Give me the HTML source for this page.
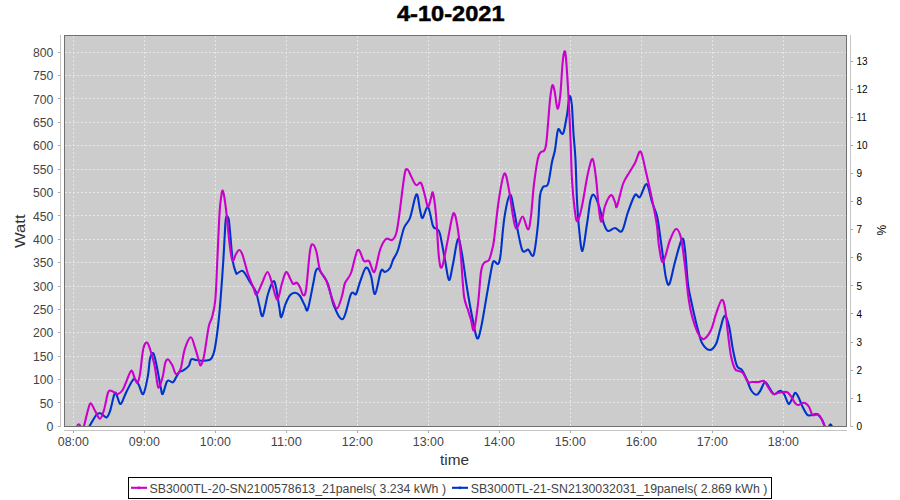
<!DOCTYPE html>
<html><head><meta charset="utf-8"><style>
html,body{margin:0;padding:0;background:#fff;overflow:hidden;}
svg{display:block;font-family:"Liberation Sans",sans-serif;}
</style></head><body>
<svg width="900" height="500" viewBox="0 0 900 500">
<defs><clipPath id="pc"><rect x="65" y="36" width="781" height="390"/></clipPath></defs>
<rect x="0" y="0" width="900" height="500" fill="#fff"/>
<text x="397" y="21.3" font-size="21.5" font-weight="bold" fill="#000" stroke="#000" stroke-width="0.5" textLength="107.5" lengthAdjust="spacingAndGlyphs">4-10-2021</text>
<rect x="64" y="35" width="783" height="392" fill="#cccccc"/>
<path d="M73.5 36V426 M144.5 36V426 M215.5 36V426 M286.5 36V426 M357.5 36V426 M428.5 36V426 M499.5 36V426 M570.5 36V426 M641.5 36V426 M712.5 36V426 M783.5 36V426 M65 402.5H846 M65 379.5H846 M65 356.5H846 M65 332.5H846 M65 309.5H846 M65 286.5H846 M65 262.5H846 M65 239.5H846 M65 215.5H846 M65 192.5H846 M65 169.5H846 M65 145.5H846 M65 122.5H846 M65 98.5H846 M65 75.5H846 M65 52.5H846" stroke="#fff" stroke-width="1" stroke-dasharray="2 2" fill="none" shape-rendering="crispEdges" opacity="0.5"/>
<g clip-path="url(#pc)" fill="none" stroke-width="2.1" stroke-linejoin="round" stroke-linecap="round"><path d="M89.0 427.0C90.2 425.1 94.2 417.6 96.0 415.3C97.8 413.0 98.8 413.3 100.0 413.3C101.2 413.3 102.2 414.6 103.3 415.3C104.4 416.0 105.6 418.0 106.7 417.3C107.8 416.6 108.7 415.3 110.0 411.3C111.3 407.3 113.5 395.7 114.7 393.3C115.9 390.9 116.3 394.9 117.3 396.7C118.3 398.5 119.2 404.7 120.7 404.0C122.2 403.3 124.1 396.5 126.0 392.7C127.9 388.9 130.6 383.5 132.0 381.3C133.4 379.1 133.6 378.7 134.7 379.3C135.8 379.9 137.3 382.2 138.7 384.7C140.1 387.1 141.8 395.6 143.3 394.0C144.9 392.4 146.9 381.2 148.0 375.3C149.1 369.4 149.1 362.4 150.0 358.7C150.9 355.0 152.2 352.1 153.3 353.3C154.4 354.5 155.5 360.3 156.7 366.0C157.9 371.7 159.7 382.6 160.7 387.3C161.7 392.0 161.7 394.9 162.7 394.0C163.7 393.1 165.6 384.2 166.7 382.0C167.8 379.8 168.2 380.7 169.3 380.7C170.4 380.7 171.7 383.3 173.3 382.0C174.9 380.7 177.1 374.6 178.7 372.7C180.3 370.8 181.0 371.8 182.7 370.7C184.4 369.6 187.3 367.9 188.7 366.0C190.1 364.1 190.1 360.3 191.3 359.3C192.5 358.3 194.3 359.8 196.0 360.0C197.7 360.2 199.1 360.7 201.3 360.7C203.5 360.7 207.5 360.6 209.3 360.0C211.1 359.4 211.1 359.1 212.0 357.3C212.9 355.5 213.7 354.4 214.7 349.3C215.7 344.2 217.0 334.9 218.0 326.7C219.0 318.5 219.6 311.0 220.5 300.0C221.4 289.0 222.5 273.2 223.3 260.7C224.1 248.1 224.8 232.0 225.3 224.7C225.8 217.4 225.8 217.6 226.4 216.7C227.0 215.8 228.1 216.9 228.7 219.3C229.3 221.7 229.3 224.4 230.0 231.3C230.7 238.2 231.7 253.8 232.7 260.7C233.7 267.6 235.2 270.6 236.0 272.7C236.8 274.8 236.3 273.6 237.3 273.3C238.3 273.0 240.7 270.6 242.0 270.7C243.3 270.8 243.9 271.9 245.3 274.0C246.8 276.1 248.9 280.3 250.7 283.3C252.5 286.3 254.6 288.3 256.0 292.0C257.4 295.7 258.2 301.3 259.3 305.3C260.4 309.3 261.2 317.9 262.7 316.0C264.1 314.1 266.2 299.8 268.0 294.0C269.8 288.2 272.0 282.4 273.3 281.3C274.6 280.2 275.0 283.0 276.0 287.3C277.0 291.6 278.4 302.3 279.3 307.3C280.2 312.3 280.3 317.7 281.3 317.3C282.3 316.9 283.9 308.4 285.3 304.7C286.8 301.0 288.3 297.3 290.0 295.3C291.7 293.3 293.6 292.6 295.3 292.7C297.0 292.8 298.4 293.9 300.0 296.0C301.6 298.1 303.4 303.1 304.7 305.3C306.0 307.5 306.4 313.0 307.8 309.3C309.2 305.6 312.0 289.5 313.3 283.3C314.6 277.1 314.7 274.4 315.5 272.0C316.3 269.6 316.9 268.3 318.0 268.6C319.1 268.9 320.3 271.4 322.0 274.0C323.7 276.6 326.0 278.7 328.0 284.0C330.0 289.3 331.5 300.2 334.0 306.0C336.5 311.8 340.2 321.0 343.0 319.0C345.8 317.0 348.8 298.2 351.0 294.0C353.2 289.8 354.5 296.0 356.0 294.0C357.5 292.0 358.3 286.4 360.0 282.0C361.7 277.6 364.2 268.6 366.0 267.6C367.8 266.6 369.5 271.6 371.0 276.0C372.5 280.4 373.3 294.8 375.0 294.0C376.7 293.2 379.3 274.7 381.0 271.0C382.7 267.3 383.5 272.5 385.0 272.0C386.5 271.5 388.7 270.0 390.0 268.0C391.3 266.0 391.7 263.0 393.0 260.0C394.3 257.0 396.2 255.3 398.0 250.0C399.8 244.7 402.0 233.3 404.0 228.0C406.0 222.7 407.9 223.6 410.0 218.0C412.1 212.4 414.7 195.7 416.4 194.4C418.1 193.1 419.0 206.1 420.0 210.0C421.0 213.9 421.3 218.5 422.6 218.0C423.9 217.5 426.3 205.7 428.0 207.0C429.7 208.3 431.5 222.3 433.0 226.0C434.5 229.7 435.8 227.7 437.0 229.0C438.2 230.3 438.7 228.8 440.0 234.0C441.3 239.2 443.5 252.3 445.0 260.0C446.5 267.7 447.7 279.3 449.0 280.0C450.3 280.7 451.5 270.8 453.0 264.0C454.5 257.2 456.5 240.7 458.0 239.0C459.5 237.3 460.5 245.8 462.0 254.0C463.5 262.2 465.3 277.7 467.0 288.0C468.7 298.3 470.3 307.7 472.0 316.0C473.7 324.3 475.5 336.0 477.0 338.0C478.5 340.0 479.3 335.3 481.0 328.0C482.7 320.7 485.2 304.3 487.0 294.0C488.8 283.7 490.8 271.5 492.0 266.0C493.2 260.5 493.0 261.3 494.0 261.0C495.0 260.7 496.9 264.8 498.0 264.0C499.1 263.2 499.3 263.7 500.4 256.0C501.5 248.3 502.8 227.8 504.4 217.6C506.0 207.4 508.4 196.3 510.0 195.0C511.6 193.7 512.7 203.8 514.0 210.0C515.3 216.2 516.7 225.4 518.0 232.0C519.3 238.6 520.8 246.4 522.0 249.6C523.2 252.8 524.1 251.2 525.2 251.2C526.3 251.2 527.2 248.8 528.4 249.6C529.6 250.4 531.3 256.0 532.4 256.0C533.5 256.0 533.9 254.9 534.8 249.6C535.7 244.3 537.1 232.9 538.0 224.0C538.9 215.1 539.2 202.2 540.0 196.0C540.8 189.8 541.7 189.0 543.0 187.0C544.3 185.0 546.5 188.2 548.0 184.0C549.5 179.8 550.8 167.7 552.0 162.0C553.2 156.3 554.0 155.4 555.0 150.0C556.0 144.6 556.9 132.6 558.0 129.8C559.1 127.0 560.4 132.8 561.4 133.2C562.4 133.6 562.7 135.2 563.7 132.0C564.7 128.8 566.2 119.6 567.2 113.7C568.2 107.8 568.7 97.9 569.5 96.4C570.3 94.9 571.1 98.6 571.8 104.5C572.4 110.4 572.8 122.8 573.4 132.0C574.0 141.2 574.9 148.7 575.5 160.0C576.1 171.3 576.4 188.7 577.0 200.0C577.6 211.3 578.1 219.5 579.0 228.0C579.9 236.5 581.1 251.7 582.4 251.0C583.7 250.3 585.6 232.5 587.0 224.0C588.4 215.5 589.3 204.8 590.5 200.0C591.7 195.2 592.6 194.0 594.0 195.0C595.4 196.0 597.3 201.2 599.0 206.0C600.7 210.8 602.5 219.8 604.0 224.0C605.5 228.2 606.2 230.3 608.0 231.0C609.8 231.7 612.7 228.0 615.0 228.0C617.3 228.0 619.8 233.7 622.0 231.0C624.2 228.3 625.8 218.0 628.0 212.0C630.2 206.0 633.0 197.5 635.0 195.0C637.0 192.5 638.1 198.8 640.0 197.0C641.9 195.2 644.6 183.2 646.6 184.0C648.6 184.8 650.3 196.7 652.0 202.0C653.7 207.3 655.7 210.5 657.0 216.0C658.3 221.5 659.0 228.2 660.0 235.0C661.0 241.8 662.0 249.8 663.0 257.0C664.0 264.2 664.9 273.5 666.0 278.0C667.1 282.5 667.9 286.7 669.4 284.0C670.9 281.3 672.9 269.5 675.0 262.0C677.1 254.5 680.3 241.0 682.0 239.0C683.7 237.0 684.0 242.5 685.0 250.0C686.0 257.5 687.0 275.7 688.0 284.0C689.0 292.3 689.8 294.3 691.0 300.0C692.2 305.7 693.8 313.0 695.0 318.0C696.2 323.0 696.8 325.8 698.0 330.0C699.2 334.2 700.1 339.7 702.0 343.0C703.9 346.3 707.3 349.8 709.6 350.0C711.9 350.2 714.3 347.3 716.0 344.0C717.7 340.7 718.6 334.7 720.0 330.0C721.4 325.3 723.0 316.7 724.5 316.0C726.0 315.3 727.6 320.3 729.0 326.0C730.4 331.7 731.7 343.3 733.0 350.0C734.3 356.7 735.5 362.7 737.0 366.0C738.5 369.3 740.3 367.7 742.0 370.0C743.7 372.3 745.5 376.7 747.0 380.0C748.5 383.3 749.4 387.5 751.0 390.0C752.6 392.5 755.0 394.8 756.6 394.8C758.2 394.9 759.1 392.4 760.5 390.3C761.9 388.2 763.5 382.4 765.0 382.0C766.5 381.6 767.9 385.8 769.4 387.8C770.9 389.8 772.4 393.6 773.9 394.2C775.4 394.8 777.2 392.1 778.4 391.6C779.6 391.1 780.0 390.6 781.0 391.0C782.0 391.4 783.1 392.4 784.2 394.2C785.3 396.0 786.5 400.3 787.4 401.9C788.2 403.5 788.4 404.4 789.3 403.8C790.1 403.2 791.5 399.8 792.5 398.0C793.5 396.2 794.1 393.1 795.1 392.9C796.1 392.7 797.0 394.3 798.3 396.7C799.6 399.1 801.2 404.0 802.7 407.0C804.2 410.0 805.9 413.3 807.2 414.7C808.5 416.1 809.0 415.4 810.4 415.3C811.8 415.2 814.2 414.1 815.5 414.0C816.8 413.9 817.0 413.7 818.1 414.7C819.2 415.7 820.9 417.8 822.0 419.8C823.1 421.9 824.5 425.8 825.0 427.0" stroke="#0033cc"/><path d="M829 426.5C830 423.5 831 423.5 832 426.5" stroke="#0033cc"/><path d="M77 426.5C78 423.5 79.5 423.5 80.5 426.5" stroke="#cc00cc"/><path d="M84.0 426.0C84.7 423.3 86.9 413.8 88.0 410.0C89.1 406.2 89.5 403.1 90.7 403.3C91.9 403.5 93.8 408.7 95.3 411.3C96.8 413.9 98.5 418.9 100.0 418.7C101.5 418.5 102.7 414.3 104.0 410.0C105.3 405.7 106.9 395.9 108.0 392.7C109.1 389.5 109.6 390.7 110.7 390.7C111.8 390.7 113.5 392.1 114.7 392.7C115.9 393.2 116.7 394.4 118.0 394.0C119.3 393.6 121.2 392.2 122.7 390.0C124.2 387.8 125.3 383.9 126.7 380.7C128.1 377.5 130.0 371.1 131.3 370.7C132.6 370.2 133.7 376.0 134.7 378.0C135.7 380.0 136.4 383.4 137.3 382.7C138.2 382.0 139.0 379.7 140.0 374.0C141.0 368.3 142.1 353.9 143.3 348.7C144.5 343.5 146.0 341.9 147.3 342.7C148.6 343.5 150.1 349.4 151.3 353.3C152.5 357.2 153.7 361.0 154.7 366.0C155.7 371.0 156.6 379.8 157.3 383.3C158.0 386.9 158.1 388.4 159.0 387.3C159.9 386.2 161.6 380.8 162.7 376.7C163.8 372.6 164.4 365.6 165.3 362.7C166.2 359.8 167.1 359.3 168.0 359.3C168.9 359.3 169.9 361.6 170.7 362.7C171.5 363.8 171.8 364.1 172.7 366.0C173.6 367.9 174.7 373.6 176.0 374.0C177.3 374.4 179.2 372.8 180.7 368.7C182.1 364.6 183.0 354.5 184.7 349.3C186.4 344.1 189.0 337.7 190.7 337.3C192.4 336.9 193.4 342.9 194.7 346.7C196.0 350.5 197.7 356.9 198.7 360.0C199.7 363.1 199.8 366.0 200.7 365.3C201.6 364.6 202.7 362.4 204.0 356.0C205.3 349.6 207.4 333.1 208.7 326.7C210.0 320.2 210.9 321.8 212.0 317.3C213.1 312.9 214.4 309.4 215.3 300.0C216.2 290.6 216.6 275.4 217.3 260.7C218.0 246.0 218.9 222.8 219.6 212.0C220.3 201.2 220.8 199.6 221.3 196.0C221.8 192.4 222.2 190.3 222.7 190.5C223.2 190.7 223.6 192.9 224.3 197.0C225.0 201.1 226.0 209.1 226.7 215.3C227.4 221.5 227.9 228.1 228.5 234.0C229.1 239.9 229.8 246.5 230.5 251.0C231.2 255.5 231.8 260.5 232.7 261.0C233.6 261.5 234.9 255.8 236.0 254.0C237.1 252.2 238.2 249.8 239.3 250.0C240.4 250.2 241.2 251.3 242.7 255.3C244.1 259.3 246.2 268.7 248.0 274.0C249.8 279.3 251.9 283.9 253.3 287.3C254.7 290.8 255.1 295.4 256.5 294.7C257.9 294.0 260.2 287.1 262.0 283.3C263.8 279.5 265.8 272.0 267.5 272.0C269.2 272.0 270.7 279.4 272.0 283.3C273.3 287.2 274.3 292.7 275.3 295.3C276.3 297.9 276.9 301.0 278.0 299.0C279.1 297.0 280.6 287.8 282.0 283.3C283.4 278.8 284.8 272.7 286.2 272.0C287.6 271.3 289.3 277.3 290.5 279.3C291.7 281.3 292.3 283.4 293.3 284.0C294.3 284.6 295.6 282.1 296.7 282.7C297.8 283.2 298.9 285.2 300.0 287.3C301.1 289.4 302.0 294.6 303.0 295.0C304.0 295.4 304.8 297.3 306.0 290.0C307.2 282.7 308.8 258.6 310.0 251.0C311.2 243.4 311.9 244.3 313.0 244.5C314.1 244.7 315.3 247.8 316.5 252.0C317.7 256.2 318.4 265.3 320.0 270.0C321.6 274.7 324.0 275.3 326.0 280.0C328.0 284.7 330.2 293.2 332.0 298.0C333.8 302.8 335.3 308.8 337.0 308.5C338.7 308.2 340.7 300.2 342.0 296.0C343.3 291.8 343.5 286.8 345.0 283.0C346.5 279.2 348.9 278.5 351.0 273.0C353.1 267.5 355.6 252.0 357.8 250.0C360.0 248.0 362.1 259.2 364.0 261.0C365.9 262.8 367.3 259.2 369.0 261.0C370.7 262.8 372.6 273.8 374.4 272.0C376.2 270.2 378.1 255.5 380.0 250.0C381.9 244.5 384.0 240.7 386.0 239.0C388.0 237.3 390.3 240.8 392.0 240.0C393.7 239.2 394.8 237.8 396.0 234.0C397.2 230.2 397.6 226.8 399.0 217.0C400.4 207.2 403.1 182.9 404.5 175.0C405.9 167.1 406.4 169.3 407.5 169.5C408.6 169.7 409.6 173.4 411.0 176.0C412.4 178.6 414.3 183.8 416.0 185.0C417.7 186.2 419.5 181.2 421.0 183.0C422.5 184.8 423.8 192.0 425.0 196.0C426.2 200.0 427.0 206.7 428.0 207.0C429.0 207.3 430.2 200.3 431.0 198.0C431.8 195.7 432.2 190.2 433.0 193.0C433.8 195.8 435.0 204.2 436.0 215.0C437.0 225.8 438.0 249.3 439.0 258.0C440.0 266.7 440.7 269.3 442.0 267.0C443.3 264.7 445.3 252.2 447.0 244.0C448.7 235.8 450.7 223.0 452.0 218.0C453.3 213.0 453.6 212.0 454.6 214.0C455.6 216.0 456.9 222.7 458.0 230.0C459.1 237.3 460.0 247.0 461.0 258.0C462.0 269.0 462.8 287.3 464.0 296.0C465.2 304.7 466.8 306.0 468.0 310.0C469.2 314.0 470.0 316.7 471.0 320.0C472.0 323.3 472.8 332.7 474.0 330.0C475.2 327.3 476.8 313.7 478.0 304.0C479.2 294.3 480.0 278.8 481.0 272.0C482.0 265.2 482.7 265.0 484.0 263.0C485.3 261.0 487.7 262.2 489.0 260.0C490.3 257.8 491.2 253.3 492.0 250.0C492.8 246.7 492.9 248.3 494.0 240.0C495.1 231.7 497.1 211.1 498.8 200.0C500.5 188.9 502.7 175.3 504.4 173.6C506.1 171.9 507.6 182.9 509.0 190.0C510.4 197.1 511.8 209.5 513.0 216.0C514.2 222.5 514.8 228.7 516.4 228.8C518.0 228.9 520.7 216.4 522.6 216.5C524.5 216.6 526.6 229.6 528.0 229.5C529.4 229.4 530.0 223.6 531.0 216.0C532.0 208.4 532.8 193.7 534.0 184.0C535.2 174.3 536.8 163.3 538.0 158.0C539.2 152.7 540.0 153.2 541.0 152.0C542.0 150.8 543.3 152.3 544.2 150.5C545.1 148.7 545.5 149.7 546.5 141.3C547.5 132.9 549.0 109.2 550.0 99.9C551.0 90.6 551.5 87.1 552.2 85.6C553.0 84.0 553.6 86.8 554.5 90.6C555.4 94.4 556.5 107.8 557.5 108.6C558.5 109.4 559.4 102.8 560.3 95.2C561.1 87.6 561.9 70.3 562.6 63.0C563.3 55.7 563.8 52.3 564.4 51.5C565.0 50.7 565.4 51.5 566.0 58.4C566.6 65.3 567.5 79.2 568.3 93.0C569.1 106.8 570.0 126.8 570.6 141.3C571.2 155.8 571.3 168.2 572.0 180.0C572.7 191.8 574.1 205.2 575.0 212.0C575.9 218.8 576.4 222.0 577.6 221.0C578.8 220.0 580.3 214.0 582.0 206.0C583.7 198.0 586.2 180.8 588.0 173.0C589.8 165.2 591.3 158.2 592.6 159.0C593.9 159.8 594.9 169.5 596.0 178.0C597.1 186.5 598.1 202.7 599.0 210.0C599.9 217.3 600.6 222.3 601.6 221.6C602.6 220.9 603.4 210.4 605.0 206.0C606.6 201.6 609.3 195.7 611.0 195.0C612.7 194.3 614.0 200.1 615.0 202.0C616.0 203.9 615.7 209.4 617.0 206.4C618.3 203.4 621.0 189.6 623.0 184.0C625.0 178.4 627.0 176.5 629.0 173.0C631.0 169.5 633.1 166.6 635.0 163.0C636.9 159.4 638.8 150.1 640.6 151.6C642.4 153.1 643.9 163.3 646.0 172.0C648.1 180.7 651.2 195.0 653.0 204.0C654.8 213.0 656.0 219.0 657.0 226.0C658.0 233.0 658.0 240.0 659.0 246.0C660.0 252.0 661.2 263.0 663.0 262.0C664.8 261.0 667.8 245.5 670.0 240.0C672.2 234.5 674.2 229.3 676.0 229.0C677.8 228.7 679.5 231.8 681.0 238.0C682.5 244.2 683.8 256.7 685.0 266.0C686.2 275.3 687.0 286.3 688.0 294.0C689.0 301.7 689.8 306.7 691.0 312.0C692.2 317.3 693.7 322.2 695.0 326.0C696.3 329.8 697.5 332.8 699.0 335.0C700.5 337.2 702.0 339.8 704.0 339.0C706.0 338.2 709.0 334.2 711.0 330.0C713.0 325.8 714.2 319.0 716.0 314.0C717.8 309.0 720.1 301.0 721.6 300.0C723.1 299.0 723.9 302.3 725.0 308.0C726.1 313.7 727.0 326.0 728.0 334.0C729.0 342.0 729.8 350.2 731.0 356.0C732.2 361.8 733.7 366.5 735.0 369.0C736.3 371.5 737.7 370.3 739.0 371.0C740.3 371.7 741.5 371.2 743.0 373.0C744.5 374.8 746.5 380.5 748.0 382.0C749.5 383.5 750.3 382.0 752.0 382.0C753.7 382.0 756.0 382.2 758.0 382.0C760.0 381.8 762.3 380.2 764.0 381.0C765.7 381.8 766.7 385.0 768.0 387.0C769.3 389.0 770.9 391.7 772.0 392.9C773.1 394.1 773.6 394.2 774.6 394.2C775.6 394.2 776.5 393.2 777.8 392.9C779.1 392.6 780.7 392.3 782.3 392.2C783.9 392.1 785.9 391.4 787.4 392.2C788.9 392.9 789.9 394.9 791.2 396.7C792.5 398.5 793.9 401.7 795.1 403.1C796.3 404.5 797.0 405.0 798.3 405.0C799.6 405.0 801.5 403.4 802.7 403.1C803.9 402.8 804.2 402.5 805.3 403.1C806.4 403.8 807.9 405.1 809.1 407.0C810.3 408.9 811.1 413.4 812.3 414.7C813.5 416.0 815.1 414.7 816.2 414.7C817.3 414.7 817.7 413.8 818.7 414.7C819.7 415.6 821.0 417.8 822.0 419.8C823.0 421.9 824.5 425.8 825.0 427.0" stroke="#cc00cc"/></g>
<rect x="64.5" y="35.5" width="782" height="391" fill="none" stroke="#707070" stroke-width="1" shape-rendering="crispEdges"/>
<path d="M60.5 35V427 M64 430.5H847 M850.5 35V427" stroke="#c4c4c4" stroke-width="1" fill="none" shape-rendering="crispEdges"/>
<path d="M58 426.5H60 M58 402.5H60 M58 379.5H60 M58 356.5H60 M58 332.5H60 M58 309.5H60 M58 286.5H60 M58 262.5H60 M58 239.5H60 M58 215.5H60 M58 192.5H60 M58 169.5H60 M58 145.5H60 M58 122.5H60 M58 98.5H60 M58 75.5H60 M58 52.5H60 M73.5 431V433 M144.5 431V433 M215.5 431V433 M286.5 431V433 M357.5 431V433 M428.5 431V433 M499.5 431V433 M570.5 431V433 M641.5 431V433 M712.5 431V433 M783.5 431V433 M851 426.5H853 M851 398.5H853 M851 370.5H853 M851 342.5H853 M851 313.5H853 M851 285.5H853 M851 257.5H853 M851 229.5H853 M851 201.5H853 M851 173.5H853 M851 145.5H853 M851 117.5H853 M851 89.5H853 M851 61.5H853" stroke="#a8a8a8" stroke-width="1" fill="none" shape-rendering="crispEdges"/>
<g font-size="12" fill="#444">
<text x="46.5" y="430.9" textLength="6.9" lengthAdjust="spacingAndGlyphs">0</text><text x="39.8" y="407.6" textLength="13.6" lengthAdjust="spacingAndGlyphs">50</text><text x="33.1" y="384.2" textLength="20.3" lengthAdjust="spacingAndGlyphs">100</text><text x="33.1" y="360.8" textLength="20.3" lengthAdjust="spacingAndGlyphs">150</text><text x="33.1" y="337.4" textLength="20.3" lengthAdjust="spacingAndGlyphs">200</text><text x="33.1" y="314.1" textLength="20.3" lengthAdjust="spacingAndGlyphs">250</text><text x="33.1" y="290.7" textLength="20.3" lengthAdjust="spacingAndGlyphs">300</text><text x="33.1" y="267.3" textLength="20.3" lengthAdjust="spacingAndGlyphs">350</text><text x="33.1" y="243.9" textLength="20.3" lengthAdjust="spacingAndGlyphs">400</text><text x="33.1" y="220.6" textLength="20.3" lengthAdjust="spacingAndGlyphs">450</text><text x="33.1" y="197.2" textLength="20.3" lengthAdjust="spacingAndGlyphs">500</text><text x="33.1" y="173.8" textLength="20.3" lengthAdjust="spacingAndGlyphs">550</text><text x="33.1" y="150.4" textLength="20.3" lengthAdjust="spacingAndGlyphs">600</text><text x="33.1" y="127.1" textLength="20.3" lengthAdjust="spacingAndGlyphs">650</text><text x="33.1" y="103.7" textLength="20.3" lengthAdjust="spacingAndGlyphs">700</text><text x="33.1" y="80.3" textLength="20.3" lengthAdjust="spacingAndGlyphs">750</text><text x="33.1" y="57.0" textLength="20.3" lengthAdjust="spacingAndGlyphs">800</text>
<text x="57.8" y="445.6" textLength="31" lengthAdjust="spacingAndGlyphs">08:00</text><text x="128.8" y="445.6" textLength="31" lengthAdjust="spacingAndGlyphs">09:00</text><text x="199.8" y="445.6" textLength="31" lengthAdjust="spacingAndGlyphs">10:00</text><text x="270.8" y="445.6" textLength="31" lengthAdjust="spacingAndGlyphs">11:00</text><text x="341.8" y="445.6" textLength="31" lengthAdjust="spacingAndGlyphs">12:00</text><text x="412.8" y="445.6" textLength="31" lengthAdjust="spacingAndGlyphs">13:00</text><text x="483.8" y="445.6" textLength="31" lengthAdjust="spacingAndGlyphs">14:00</text><text x="554.8" y="445.6" textLength="31" lengthAdjust="spacingAndGlyphs">15:00</text><text x="625.8" y="445.6" textLength="31" lengthAdjust="spacingAndGlyphs">16:00</text><text x="696.8" y="445.6" textLength="31" lengthAdjust="spacingAndGlyphs">17:00</text><text x="767.8" y="445.6" textLength="31" lengthAdjust="spacingAndGlyphs">18:00</text>
</g>
<g font-size="10" fill="#000">
<text x="856.5" y="429.9">0</text><text x="856.5" y="401.8">1</text><text x="856.5" y="373.7">2</text><text x="856.5" y="345.6">3</text><text x="856.5" y="317.6">4</text><text x="856.5" y="289.5">5</text><text x="856.5" y="261.4">6</text><text x="856.5" y="233.4">7</text><text x="856.5" y="205.3">8</text><text x="856.5" y="177.2">9</text><text x="856.5" y="149.2">10</text><text x="856.5" y="121.1">11</text><text x="856.5" y="93.0">12</text><text x="856.5" y="64.9">13</text>
</g>
<text x="25.4" y="248" transform="rotate(-90 25.4 248)" font-size="14.5" fill="#333" textLength="33.6" lengthAdjust="spacingAndGlyphs">Watt</text>
<text x="440" y="465" font-size="14.5" fill="#333" textLength="29" lengthAdjust="spacingAndGlyphs">time</text>
<text x="885.5" y="235.5" transform="rotate(-90 885.5 235.5)" font-size="12" fill="#000">%</text>
<rect x="128.5" y="477.5" width="643" height="21" fill="#fff" stroke="#000" stroke-width="1" shape-rendering="crispEdges"/>
<path d="M131 487.8H147" stroke="#cc00cc" stroke-width="2.1"/><circle cx="139" cy="487.8" r="1.4" fill="#cc00cc"/>
<text x="149.5" y="492.7" font-size="12" fill="#444" textLength="296.5" lengthAdjust="spacingAndGlyphs">SB3000TL-20-SN2100578613_21panels( 3.234 kWh )</text>
<path d="M452 487.8H468" stroke="#0033cc" stroke-width="2.1"/><circle cx="460" cy="487.8" r="1.4" fill="#0033cc"/>
<text x="470.7" y="492.7" font-size="12" fill="#444" textLength="296.6" lengthAdjust="spacingAndGlyphs">SB3000TL-21-SN2130032031_19panels( 2.869 kWh )</text>
</svg>
</body></html>
